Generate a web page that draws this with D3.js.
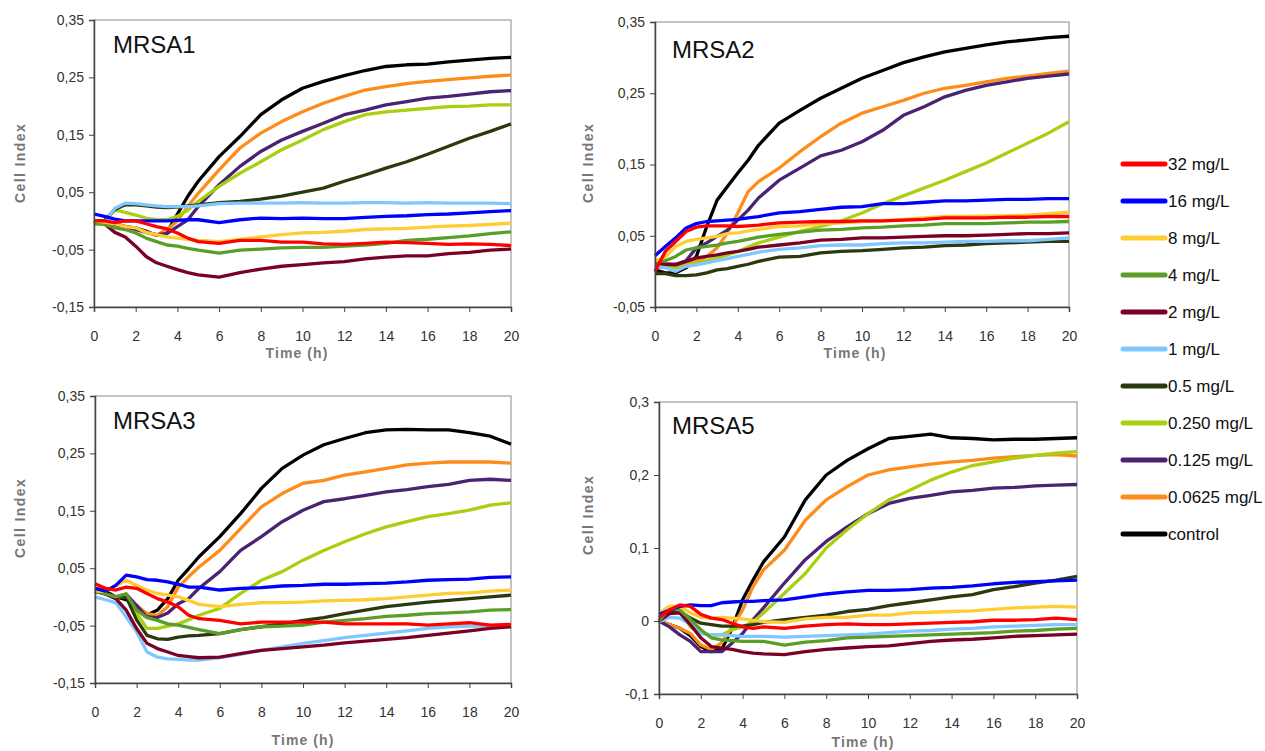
<!DOCTYPE html>
<html>
<head>
<meta charset="utf-8">
<script src="https://cdn.jsdelivr.net/npm/d3@7"></script>
<style>
  body { margin: 0; background: #fff; }
  svg { display: block; font-family: "Liberation Sans", Arial, sans-serif; }
</style>
</head>
<body>
<svg id="chart" width="1265" height="751"></svg>
<script>
// time points (h)
const times = [0, 0.5, 1, 1.5, 2, 2.5, 3, 3.5, 4, 4.5, 5, 6, 7, 8, 9, 10, 11, 12, 13, 14, 15, 16, 17, 18, 19, 20];
const xTicks = [0, 2, 4, 6, 8, 10, 12, 14, 16, 18, 20];

const legendLabels = ["32 mg/L", "16 mg/L", "8 mg/L", "4 mg/L", "2 mg/L", "1 mg/L", "0.5 mg/L", "0.250 mg/L", "0.125 mg/L", "0.0625 mg/L", "control"];
const colors = ["#ff0000", "#0000ff", "#ffcc33", "#5a9e28", "#7a0026", "#80c6ff", "#2b3a0e", "#a8d010", "#4a2372", "#ff8c1a", "#000000"];

// one row per legend entry, same order as legendLabels
const mrsa1 = [
  [0.0, 0.0, -0.003, 0.0, 0.0, -0.005, -0.01, -0.014, -0.021, -0.03, -0.036, -0.039, -0.034, -0.034, -0.037, -0.037, -0.04, -0.041, -0.039, -0.037, -0.038, -0.039, -0.041, -0.04, -0.041, -0.043],
  [0.012, 0.008, 0.003, 0.0, 0.0, 0.0, 0.0, 0.0, 0.001, 0.002, 0.002, -0.003, 0.002, 0.005, 0.004, 0.005, 0.004, 0.004, 0.006, 0.008, 0.009, 0.011, 0.012, 0.014, 0.016, 0.018],
  [0.0, -0.002, -0.005, -0.01, -0.012, -0.02, -0.024, -0.028, -0.03, -0.032, -0.034, -0.036, -0.032, -0.028, -0.024, -0.021, -0.02, -0.018, -0.015, -0.014, -0.013, -0.011, -0.009, -0.008, -0.006, -0.004],
  [-0.005, -0.006, -0.012, -0.015, -0.021, -0.03, -0.036, -0.042, -0.044, -0.048, -0.051, -0.056, -0.051, -0.049, -0.047, -0.046, -0.046, -0.044, -0.042, -0.039, -0.034, -0.032, -0.029, -0.026, -0.022, -0.019],
  [0.0, -0.005, -0.02, -0.028, -0.044, -0.062, -0.073, -0.079, -0.085, -0.09, -0.094, -0.098, -0.09, -0.084, -0.079, -0.076, -0.073, -0.071, -0.066, -0.063, -0.061, -0.061, -0.057, -0.055, -0.051, -0.049],
  [-0.005, -0.003, 0.022, 0.031, 0.03, 0.028, 0.026, 0.025, 0.025, 0.025, 0.026, 0.03, 0.031, 0.031, 0.031, 0.032, 0.031, 0.031, 0.032, 0.032, 0.031, 0.032, 0.031, 0.031, 0.031, 0.03],
  [0.0, 0.0, 0.02, 0.028, 0.028, 0.026, 0.024, 0.023, 0.024, 0.026, 0.028, 0.032, 0.034, 0.038, 0.043, 0.05, 0.057, 0.069, 0.08, 0.092, 0.103, 0.116, 0.13, 0.144, 0.156, 0.169],
  [0.0, 0.0, 0.019, 0.015, 0.01, 0.005, 0.002, 0.002, 0.008, 0.019, 0.034, 0.06, 0.083, 0.103, 0.124, 0.141, 0.159, 0.173, 0.185, 0.19, 0.193, 0.196, 0.199, 0.2, 0.202, 0.202],
  [0.0, -0.003, -0.006, -0.01, -0.015, -0.02, -0.024, -0.022, -0.01, 0.002, 0.025, 0.063, 0.095, 0.121, 0.141, 0.156, 0.17, 0.185, 0.193, 0.202, 0.208, 0.214, 0.217, 0.221, 0.225, 0.227],
  [0.0, -0.003, -0.006, -0.01, -0.015, -0.02, -0.025, -0.015, 0.0, 0.025, 0.048, 0.089, 0.127, 0.153, 0.173, 0.19, 0.205, 0.217, 0.228, 0.234, 0.239, 0.243, 0.246, 0.249, 0.252, 0.254],
  [0.0, -0.002, -0.005, -0.01, -0.012, -0.018, -0.025, -0.02, 0.012, 0.043, 0.069, 0.112, 0.147, 0.185, 0.211, 0.231, 0.243, 0.253, 0.262, 0.269, 0.272, 0.273, 0.277, 0.28, 0.283, 0.285]
];

const mrsa2 = [
  [0.0, 0.028, 0.042, 0.056, 0.062, 0.064, 0.064, 0.064, 0.063, 0.064, 0.065, 0.068, 0.069, 0.07, 0.07, 0.071, 0.071, 0.072, 0.073, 0.075, 0.075, 0.075, 0.076, 0.076, 0.077, 0.077],
  [0.022, 0.035, 0.047, 0.061, 0.067, 0.07, 0.071, 0.072, 0.073, 0.075, 0.077, 0.082, 0.084, 0.087, 0.09, 0.091, 0.095, 0.095, 0.097, 0.099, 0.099, 0.1, 0.101, 0.101, 0.102, 0.102],
  [0.015, 0.02, 0.035, 0.042, 0.045, 0.047, 0.049, 0.053, 0.054, 0.057, 0.059, 0.063, 0.064, 0.067, 0.068, 0.07, 0.071, 0.073, 0.075, 0.077, 0.077, 0.078, 0.078, 0.079, 0.081, 0.083],
  [0.013, 0.015, 0.021, 0.03, 0.033, 0.035, 0.037, 0.04, 0.042, 0.045, 0.048, 0.052, 0.055, 0.058, 0.059, 0.061, 0.062, 0.064, 0.065, 0.067, 0.067, 0.067, 0.068, 0.069, 0.069, 0.07],
  [0.012, 0.01, 0.009, 0.014, 0.019, 0.021, 0.023, 0.026, 0.028, 0.031, 0.034, 0.037, 0.04, 0.044, 0.045, 0.047, 0.047, 0.048, 0.049, 0.05, 0.05, 0.051, 0.052, 0.053, 0.053, 0.054],
  [0.007, 0.005, 0.0, 0.007, 0.009, 0.012, 0.015, 0.018, 0.021, 0.024, 0.027, 0.031, 0.033, 0.036, 0.037, 0.037, 0.039, 0.04, 0.04, 0.041, 0.042, 0.042, 0.043, 0.043, 0.045, 0.047],
  [-0.003, -0.003, -0.006, -0.006, -0.005, -0.002, 0.002, 0.004, 0.007, 0.01, 0.014, 0.02, 0.021, 0.026, 0.028, 0.029, 0.031, 0.033, 0.034, 0.036, 0.037, 0.039, 0.04, 0.041, 0.042, 0.042],
  [0.012, 0.008, 0.005, 0.008, 0.012, 0.015, 0.019, 0.023, 0.028, 0.034, 0.04, 0.048, 0.056, 0.063, 0.071, 0.082, 0.095, 0.106, 0.117, 0.128, 0.14, 0.152, 0.166, 0.18, 0.194, 0.21],
  [0.01, 0.01, 0.01, 0.015, 0.033, 0.04, 0.049, 0.058, 0.072, 0.086, 0.103, 0.128, 0.145, 0.162, 0.17, 0.182, 0.198, 0.219, 0.231, 0.245, 0.254, 0.261, 0.266, 0.271, 0.274, 0.277],
  [0.005, 0.006, 0.007, 0.012, 0.014, 0.021, 0.033, 0.054, 0.082, 0.112, 0.126, 0.145, 0.168, 0.189, 0.208, 0.222, 0.231, 0.24, 0.25, 0.257, 0.261, 0.266, 0.271, 0.274, 0.278, 0.281],
  [0.002, -0.002, -0.002, 0.005, 0.021, 0.063, 0.1, 0.119, 0.138, 0.156, 0.177, 0.208, 0.226, 0.243, 0.257, 0.271, 0.282, 0.293, 0.301, 0.308, 0.313, 0.318, 0.322, 0.325, 0.328, 0.33]
];

const mrsa3 = [
  [0.023, 0.015, 0.012, 0.017, 0.015, 0.006, -0.003, -0.009, -0.017, -0.032, -0.038, -0.041, -0.047, -0.044, -0.044, -0.044, -0.044, -0.047, -0.047, -0.047, -0.047, -0.049, -0.047, -0.045, -0.049, -0.048],
  [0.015, 0.01, 0.02, 0.038, 0.035, 0.03, 0.029, 0.026, 0.022, 0.017, 0.017, 0.012, 0.015, 0.016, 0.019, 0.02, 0.022, 0.022, 0.023, 0.024, 0.026, 0.029, 0.03, 0.031, 0.034, 0.035],
  [0.01, 0.01, 0.02, 0.029, 0.02, 0.012, 0.006, 0.003, 0.0, -0.006, -0.013, -0.017, -0.013, -0.01, -0.01, -0.009, -0.007, -0.006, -0.005, -0.003, 0.0, 0.003, 0.006, 0.007, 0.01, 0.012],
  [0.01, 0.005, 0.0, 0.005, -0.023, -0.036, -0.041, -0.047, -0.049, -0.053, -0.057, -0.064, -0.057, -0.052, -0.051, -0.049, -0.044, -0.041, -0.038, -0.034, -0.032, -0.029, -0.028, -0.026, -0.023, -0.022],
  [0.01, 0.005, -0.003, -0.023, -0.055, -0.081, -0.09, -0.096, -0.102, -0.104, -0.106, -0.105, -0.099, -0.093, -0.09, -0.087, -0.084, -0.08, -0.077, -0.074, -0.071, -0.067, -0.063, -0.059, -0.055, -0.052],
  [0.0, -0.005, -0.01, -0.035, -0.061, -0.096, -0.105, -0.108, -0.109, -0.11, -0.11, -0.106, -0.1, -0.093, -0.087, -0.081, -0.076, -0.071, -0.067, -0.063, -0.059, -0.055, -0.052, -0.051, -0.051, -0.049],
  [0.01, 0.005, 0.0, 0.0, -0.04, -0.067, -0.073, -0.074, -0.07, -0.068, -0.067, -0.064, -0.057, -0.052, -0.047, -0.041, -0.036, -0.029, -0.023, -0.017, -0.013, -0.009, -0.006, -0.003, 0.0, 0.003],
  [0.01, 0.005, 0.0, 0.005, -0.029, -0.055, -0.055, -0.051, -0.047, -0.04, -0.032, -0.02, 0.006, 0.029, 0.044, 0.064, 0.081, 0.096, 0.11, 0.122, 0.131, 0.14, 0.145, 0.151, 0.16, 0.164],
  [0.01, 0.005, 0.0, 0.005, -0.015, -0.035, -0.036, -0.028, -0.012, -0.003, 0.015, 0.044, 0.081, 0.105, 0.131, 0.151, 0.166, 0.171, 0.177, 0.183, 0.187, 0.192, 0.196, 0.203, 0.205, 0.203],
  [0.01, 0.005, 0.0, 0.0, -0.015, -0.029, -0.032, -0.017, 0.017, 0.035, 0.052, 0.081, 0.119, 0.157, 0.18, 0.198, 0.203, 0.212, 0.218, 0.224, 0.23, 0.233, 0.235, 0.235, 0.235, 0.233],
  [0.015, 0.01, 0.0, -0.005, -0.015, -0.032, -0.023, -0.003, 0.029, 0.049, 0.07, 0.105, 0.145, 0.189, 0.224, 0.247, 0.265, 0.276, 0.286, 0.291, 0.292, 0.291, 0.291, 0.286, 0.28, 0.266]
];

const mrsa5 = [
  [0.005, 0.015, 0.022, 0.02, 0.009, 0.004, 0.002, -0.003, -0.008, -0.01, -0.008, -0.01, -0.007, -0.005, -0.004, -0.005, -0.005, -0.004, -0.003, -0.002, -0.001, 0.001, 0.001, 0.002, 0.004, 0.002],
  [0.009, 0.015, 0.02, 0.022, 0.021, 0.021, 0.025, 0.026, 0.027, 0.027, 0.028, 0.029, 0.033, 0.037, 0.04, 0.042, 0.042, 0.043, 0.045, 0.046, 0.048, 0.051, 0.053, 0.054, 0.055, 0.056],
  [0.01, 0.02, 0.02, 0.011, 0.005, 0.004, 0.005, 0.004, 0.003, 0.001, -0.001, -0.002, 0.003, 0.005, 0.005, 0.008, 0.008, 0.011, 0.012, 0.013, 0.014, 0.016, 0.018, 0.019, 0.02, 0.019],
  [0.0, 0.018, 0.015, 0.002, -0.012, -0.023, -0.026, -0.027, -0.028, -0.028, -0.028, -0.033, -0.029, -0.027, -0.023, -0.022, -0.021, -0.02, -0.019, -0.018, -0.017, -0.016, -0.014, -0.013, -0.011, -0.01],
  [0.0, 0.01, 0.011, -0.005, -0.023, -0.035, -0.037, -0.039, -0.042, -0.044, -0.045, -0.046, -0.042, -0.039, -0.037, -0.035, -0.034, -0.031, -0.028, -0.026, -0.025, -0.023, -0.021, -0.02, -0.019, -0.018],
  [-0.001, 0.005, 0.004, -0.005, -0.017, -0.019, -0.019, -0.02, -0.021, -0.021, -0.021, -0.022, -0.021, -0.02, -0.019, -0.018, -0.016, -0.014, -0.013, -0.011, -0.01, -0.008, -0.007, -0.006, -0.005, -0.005],
  [0.0, 0.015, 0.013, 0.004, -0.003, -0.005, -0.007, -0.007, -0.007, -0.005, -0.002, 0.002, 0.005, 0.008, 0.013, 0.016, 0.021, 0.025, 0.029, 0.033, 0.036, 0.043, 0.047, 0.052, 0.056, 0.061],
  [0.01, 0.02, 0.015, -0.008, -0.017, -0.019, -0.019, -0.012, -0.008, -0.001, 0.011, 0.038, 0.065, 0.1, 0.125, 0.147, 0.166, 0.179, 0.193, 0.204, 0.213, 0.218, 0.223, 0.227, 0.23, 0.232],
  [0.0, -0.008, -0.019, -0.028, -0.042, -0.042, -0.042, -0.03, -0.017, 0.002, 0.018, 0.052, 0.084, 0.109, 0.129, 0.147, 0.161, 0.168, 0.172, 0.177, 0.179, 0.182, 0.183, 0.185, 0.186, 0.187],
  [0.0, -0.005, -0.01, -0.017, -0.033, -0.039, -0.03, -0.008, 0.015, 0.047, 0.07, 0.097, 0.138, 0.166, 0.184, 0.2, 0.207, 0.211, 0.215, 0.218, 0.22, 0.223, 0.225, 0.227, 0.228, 0.226],
  [0.0, -0.005, -0.01, -0.02, -0.035, -0.042, -0.039, -0.01, 0.029, 0.056, 0.081, 0.115, 0.166, 0.2, 0.22, 0.236, 0.25, 0.253, 0.256, 0.251, 0.25, 0.248, 0.249, 0.249, 0.25, 0.251]
];

const yTicksA = [-0.15, -0.05, 0.05, 0.15, 0.25, 0.35];
const yTicksB = [-0.05, 0.05, 0.15, 0.25, 0.35];
const yTicksC = [-0.1, 0, 0.1, 0.2, 0.3];

const svg = d3.select("#chart");

const panels = [
  { title: "MRSA1", rows: mrsa1, ticks: yTicksA, box: [94, 511, 20, 307], ylab: [20, 163], xlab: [297, 358], tx: [113, 53] },
  { title: "MRSA2", rows: mrsa2, ticks: yTicksB, box: [655, 1069, 22, 307], ylab: [588, 163], xlab: [855, 358], tx: [672, 58] },
  { title: "MRSA3", rows: mrsa3, ticks: yTicksA, box: [95, 511, 396, 683], ylab: [20, 518], xlab: [303, 745], tx: [113, 429] },
  { title: "MRSA5", rows: mrsa5, ticks: yTicksC, box: [659, 1077, 402, 694], ylab: [588, 515], xlab: [863, 747], tx: [672, 434] }
];

const fmt = (v) => String(+v.toFixed(2)).replace(".", ",");
// draw order: control at the back, 32 mg/L on top
const drawOrder = d3.range(legendLabels.length).reverse();

panels.forEach((p) => {
  const [x0, x1, y0, y1] = p.box;
  const x = d3.scaleLinear().domain([0, 20]).range([x0, x1]);
  const y = d3.scaleLinear().domain(d3.extent(p.ticks)).range([y1, y0]);
  const g = svg.append("g");

  // frame
  g.append("rect")
    .attr("x", x0).attr("y", y0)
    .attr("width", x1 - x0).attr("height", y1 - y0)
    .attr("fill", "none").attr("stroke", "#8a8a8a").attr("stroke-width", 1);

  const line = d3.line()
    .x((d) => x(d[0]))
    .y((d) => y(d[1]));

  g.selectAll("path.series")
    .data(drawOrder)
    .enter()
    .append("path")
    .attr("class", "series")
    .attr("d", (i) => line(times.map((t, k) => [t, p.rows[i][k]])))
    .attr("fill", "none")
    .attr("stroke", (i) => colors[i])
    .attr("stroke-width", 3.3)
    .attr("stroke-linejoin", "round");

  const xAxis = g.append("g")
    .attr("transform", `translate(0,${y1})`)
    .call(d3.axisBottom(x).tickValues(xTicks).tickSize(5).tickPadding(19).tickFormat(d3.format("d")));
  const yAxis = g.append("g")
    .attr("transform", `translate(${x0},0)`)
    .call(d3.axisLeft(y).tickValues(p.ticks).tickSize(5).tickPadding(5).tickFormat(fmt));

  [xAxis, yAxis].forEach((a) => {
    a.select(".domain").attr("stroke", "#444").attr("stroke-width", 1.5);
    a.selectAll(".tick line").attr("stroke", "#444");
    a.selectAll(".tick text")
      .attr("fill", "#333")
      .style("font-size", "14px")
      .style("font-family", "'Liberation Sans', Arial, sans-serif");
  });

  g.append("text")
    .attr("x", p.tx[0]).attr("y", p.tx[1])
    .attr("font-size", 24)
    .attr("fill", "#111")
    .text(p.title);

  g.append("text")
    .attr("transform", `translate(${p.ylab[0]},${p.ylab[1]}) rotate(-90)`)
    .attr("text-anchor", "middle")
    .attr("dominant-baseline", "central")
    .attr("font-size", 14)
    .attr("font-weight", "bold")
    .attr("letter-spacing", 1.4)
    .attr("fill", "#777")
    .text("Cell Index");

  g.append("text")
    .attr("x", p.xlab[0]).attr("y", p.xlab[1])
    .attr("text-anchor", "middle")
    .attr("font-size", 14)
    .attr("font-weight", "bold")
    .attr("letter-spacing", 1.1)
    .attr("fill", "#777")
    .text("Time (h)");
});

// legend
const legendY = d3.scalePoint().domain(legendLabels).range([164, 534]);
const legend = svg.append("g").attr("id", "legend");
const item = legend.selectAll("g")
  .data(legendLabels)
  .enter()
  .append("g")
  .attr("transform", (d) => `translate(0,${legendY(d)})`);
item.append("line")
  .attr("x1", 1123).attr("x2", 1165)
  .attr("stroke", (d, i) => colors[i])
  .attr("stroke-width", 5)
  .attr("stroke-linecap", "round");
item.append("text")
  .attr("x", 1168)
  .attr("dominant-baseline", "central")
  .attr("font-size", 17)
  .attr("fill", "#111")
  .text((d) => d);
</script>
</body>
</html>
